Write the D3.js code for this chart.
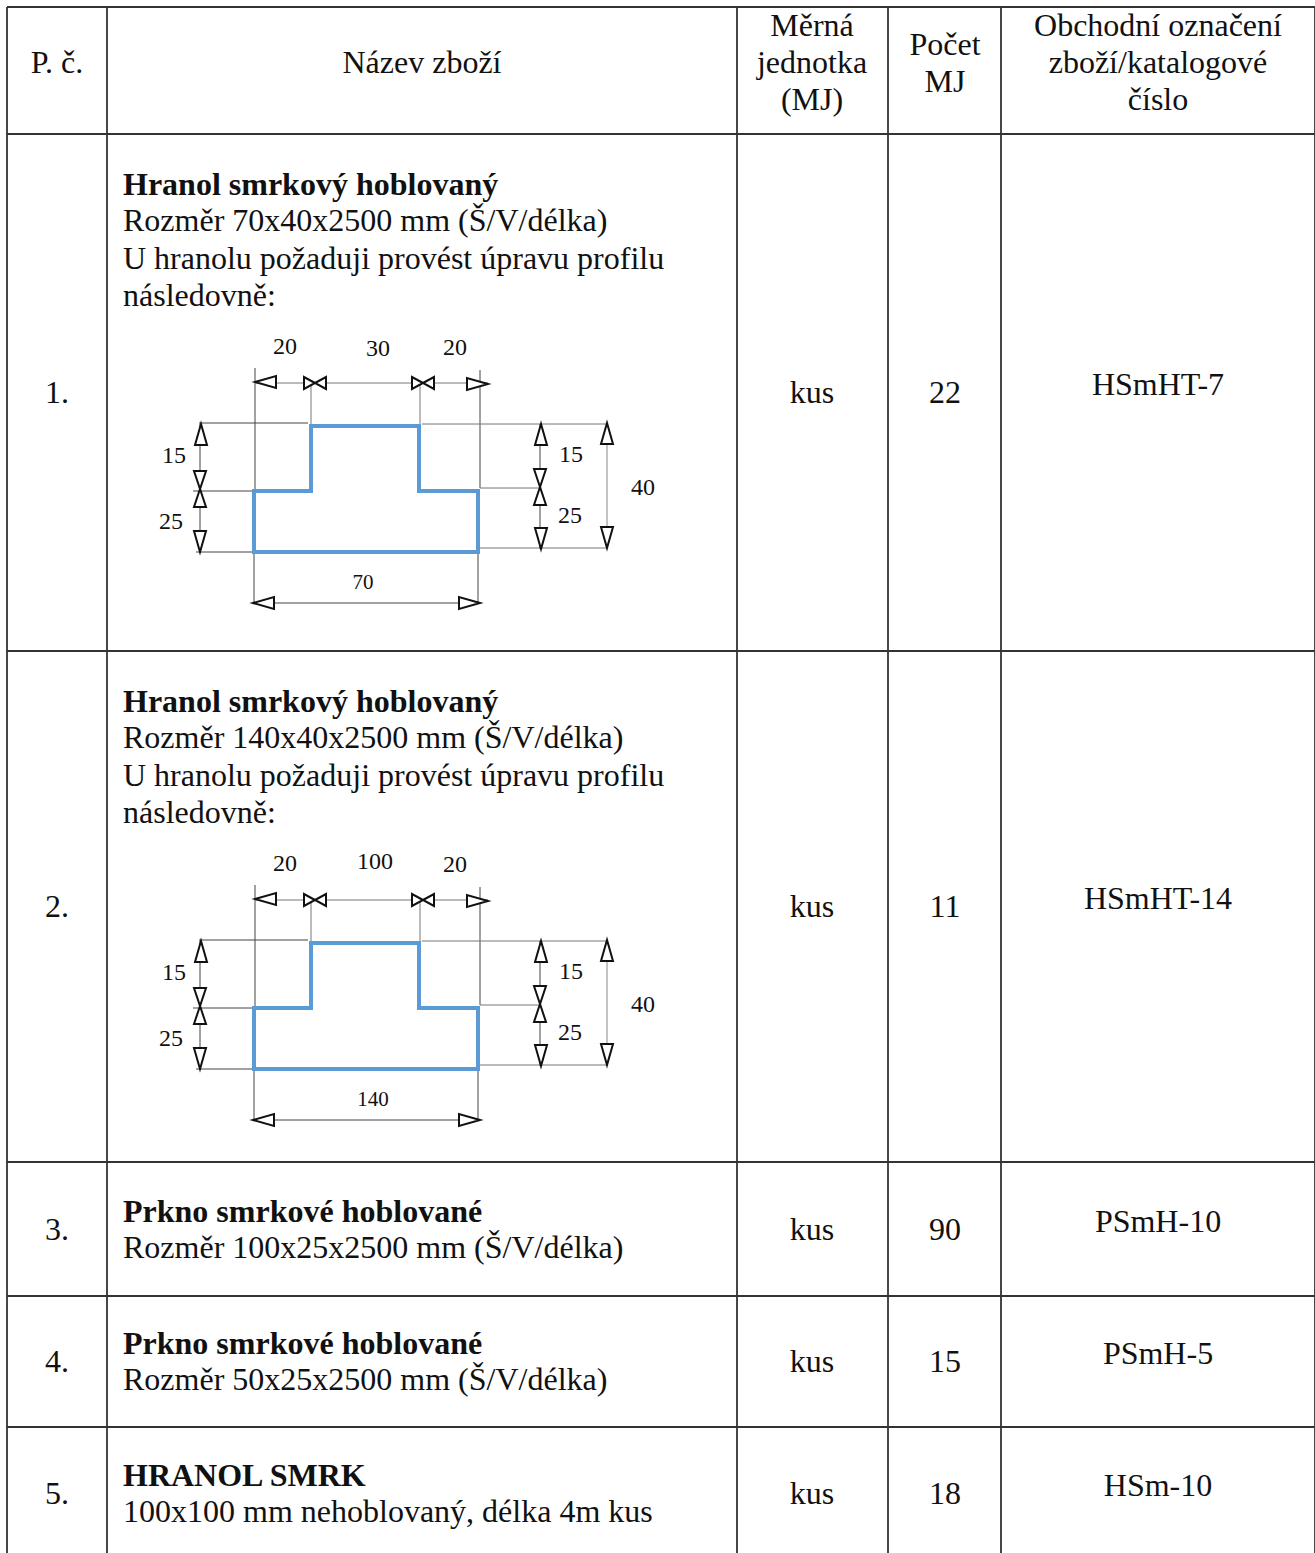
<!DOCTYPE html>
<html lang="cs">
<head>
<meta charset="utf-8">
<script src="https://cdn.jsdelivr.net/npm/d3@7"></script>
<style>
    html, body { margin: 0; padding: 0; background: #fff; }
    svg { display: block; }
    text { font-family: "Liberation Serif", serif; fill: #111; }
</style>
</head>
<body>
<div id="chart"></div>
<script>
// Table content
const headers = [
    ["P. č."],
    ["Název zboží"],
    ["Měrná", "jednotka", "(MJ)"],
    ["Počet", "MJ"],
    ["Obchodní označení", "zboží/katalogové", "číslo"]
];
const numbers = ["1.", "2.", "3.", "4.", "5."];
const titles = [
    "Hranol smrkový hoblovaný",
    "Hranol smrkový hoblovaný",
    "Prkno smrkové hoblované",
    "Prkno smrkové hoblované",
    "HRANOL SMRK"
];
const descriptions = [
    ["Rozměr 70x40x2500 mm (Š/V/délka)", "U hranolu požaduji provést úpravu profilu", "následovně:"],
    ["Rozměr 140x40x2500 mm (Š/V/délka)", "U hranolu požaduji provést úpravu profilu", "následovně:"],
    ["Rozměr 100x25x2500 mm (Š/V/délka)"],
    ["Rozměr 50x25x2500 mm (Š/V/délka)"],
    ["100x100 mm nehoblovaný, délka 4m kus"]
];
const units = ["kus", "kus", "kus", "kus", "kus"];
const counts = [22, 11, 90, 15, 18];
const codes = ["HSmHT-7", "HSmHT-14", "PSmH-10", "PSmH-5", "HSm-10"];

// Profile drawings: dimensions in mm
const profileWidths = [[20, 30, 20], [20, 100, 20]];
const profileDepths = [15, 25];

// Set dimensions
let width = 1315,
    height = 1553;

const colEdges = [7, 107, 737, 888, 1001, 1315];
const rowEdges = [7, 134, 651, 1162, 1296, 1427];
const rowMiddles = [393, 907, 1230, 1362, 1494];
const titleTops = [185, 702, 1212, 1344, 1476];
const lineStep = 37;
const fontSize = 32;

let svg = d3.select("#chart")
    .append("svg")
        .attr("width", width)
        .attr("height", height);

// Grid
svg.append("g")
    .selectAll("line")
    .data(colEdges)
    .join("line")
        .attr("x1", d => d).attr("x2", d => d)
        .attr("y1", rowEdges[0]).attr("y2", height)
        .attr("stroke", "#333").attr("stroke-width", 1.8);

svg.append("g")
    .selectAll("line")
    .data(rowEdges)
    .join("line")
        .attr("x1", colEdges[0]).attr("x2", width)
        .attr("y1", d => d).attr("y2", d => d)
        .attr("stroke", "#333").attr("stroke-width", 1.8);

// Centered cell text, y is the visual middle of the line
let cell = (x, y, label, size = fontSize, weight = "normal") => {
    svg.append("text")
        .attr("x", x)
        .attr("y", y + size * 0.32)
        .attr("text-anchor", "middle")
        .attr("font-size", size)
        .attr("font-weight", weight)
        .text(label);
};

let columnX = d3.scaleOrdinal()
    .domain(["no", "name", "unit", "count", "code"])
    .range([57, 422, 812, 945, 1158]);

// Header
headers.forEach((lines, i) => {
    let mid = 63 - (lines.length - 1) * 18.5;
    lines.forEach((line, j) => cell(columnX.range()[i], mid + j * 37, line));
});

// Rows
numbers.forEach((no, i) => {
    cell(columnX("no"), rowMiddles[i], no);
    cell(columnX("unit"), rowMiddles[i], units[i]);
    cell(columnX("count"), rowMiddles[i], counts[i]);
    cell(columnX("code"), rowMiddles[i] - 8, codes[i]);

    svg.append("text")
        .attr("x", 123)
        .attr("y", titleTops[i] + 10)
        .attr("font-size", fontSize)
        .attr("font-weight", "bold")
        .text(titles[i]);

    svg.append("g")
        .selectAll("text")
        .data(descriptions[i])
        .join("text")
            .attr("x", 123)
            .attr("y", (d, j) => titleTops[i] + 10 + (j + 1) * lineStep - (j === 0 ? 1 : 0))
            .attr("font-size", fontSize)
            .text(d => d);
});

// Dimension arrowhead: white triangle with its tip at (x, y)
let arrow = (g, x, y, dir, len = 21) => {
    let half = 6;
    let pts = {
        left: [[x, y], [x + len, y - half], [x + len, y + half]],
        right: [[x, y], [x - len, y - half], [x - len, y + half]],
        up: [[x, y], [x - half, y + len], [x + half, y + len]],
        down: [[x, y], [x - half, y - len], [x + half, y - len]]
    }[dir];
    g.append("path")
        .attr("d", d3.line()(pts) + "Z")
        .attr("fill", "#fff")
        .attr("stroke", "#111")
        .attr("stroke-width", 2);
};

let thin = (g, x1, y1, x2, y2, stroke = "#444") => {
    g.append("line")
        .attr("x1", x1).attr("y1", y1).attr("x2", x2).attr("y2", y2)
        .attr("stroke", stroke).attr("stroke-width", 1);
};

let label = (g, x, y, value, size = 24) => {
    g.append("text")
        .attr("x", x).attr("y", y + size * 0.32)
        .attr("text-anchor", "middle")
        .attr("font-size", size)
        .text(value);
};

// Profile drawing, one per row, drawn to the same schematic layout
let drawProfile = (widths, offsetY, labelX) => {
    let g = svg.append("g").attr("transform", `translate(0,${offsetY})`);

    let stops = [0, ...d3.cumsum(widths)];
    let total = stops[3];
    let depth = d3.sum(profileDepths);

    // Not to true scale in the source, so both scales are piecewise
    let x = d3.scaleLinear().domain(stops).range([254, 311, 419, 478]);
    let y = d3.scaleLinear().domain([0, profileDepths[0], depth]).range([426, 491, 552]);

    // Extension lines
    thin(g, 255, 368, 255, 490);
    thin(g, 311, 383, 311, 424, "#777");
    thin(g, 420, 383, 420, 424, "#777");
    thin(g, 480, 370, 480, 488);
    thin(g, 199, 423, 308, 423);
    thin(g, 193, 491, 253, 491);
    thin(g, 196, 552, 253, 552);
    thin(g, 422, 424, 607, 424, "#777");
    thin(g, 480, 488, 540, 488, "#777");
    thin(g, 478, 548, 607, 548, "#777");
    thin(g, 254, 552, 254, 603);
    thin(g, 478, 552, 478, 603);

    // Dimension lines
    thin(g, 255, 383, 488, 383, "#777");
    thin(g, 200, 424, 200, 552);
    thin(g, 540, 424, 540, 549);
    thin(g, 607, 424, 607, 548, "#888");
    thin(g, 253, 603, 480, 603);

    arrow(g, 255, 382, "left");
    arrow(g, 315, 383, "right", 11);
    arrow(g, 315, 383, "left", 11);
    arrow(g, 423, 383, "right", 11);
    arrow(g, 423, 383, "left", 11);
    arrow(g, 488, 384, "right");

    arrow(g, 201, 424, "up");
    arrow(g, 200, 489, "down", 18);
    arrow(g, 200, 489, "up", 18);
    arrow(g, 200, 552, "down");

    arrow(g, 541, 424, "up");
    arrow(g, 540, 487, "down", 18);
    arrow(g, 540, 487, "up", 18);
    arrow(g, 541, 549, "down");

    arrow(g, 607, 423, "up");
    arrow(g, 607, 548, "down");

    arrow(g, 253, 603, "left");
    arrow(g, 480, 603, "right");

    // Outline
    let outline = [
        [0, depth], [0, profileDepths[0]], [stops[1], profileDepths[0]], [stops[1], 0],
        [stops[2], 0], [stops[2], profileDepths[0]], [total, profileDepths[0]], [total, depth]
    ];
    g.append("path")
        .attr("d", d3.line().x(d => x(d[0])).y(d => y(d[1]))(outline) + "Z")
        .attr("fill", "none")
        .attr("stroke", "#5b9bd5")
        .attr("stroke-width", 4);

    // Labels
    label(g, 285, 346, widths[0]);
    label(g, labelX.mid[0], labelX.mid[1], widths[1]);
    label(g, 455, 347, widths[2]);
    label(g, 174, 455, profileDepths[0]);
    label(g, 171, 521, profileDepths[1]);
    label(g, 571, 454, profileDepths[0]);
    label(g, 570, 515, profileDepths[1]);
    label(g, 643, 487, depth);
    label(g, labelX.total, 582, total, 21);
};

drawProfile(profileWidths[0], 0, { mid: [378, 348], total: 363 });
drawProfile(profileWidths[1], 517, { mid: [375, 344], total: 373 });
</script>
</body>
</html>
